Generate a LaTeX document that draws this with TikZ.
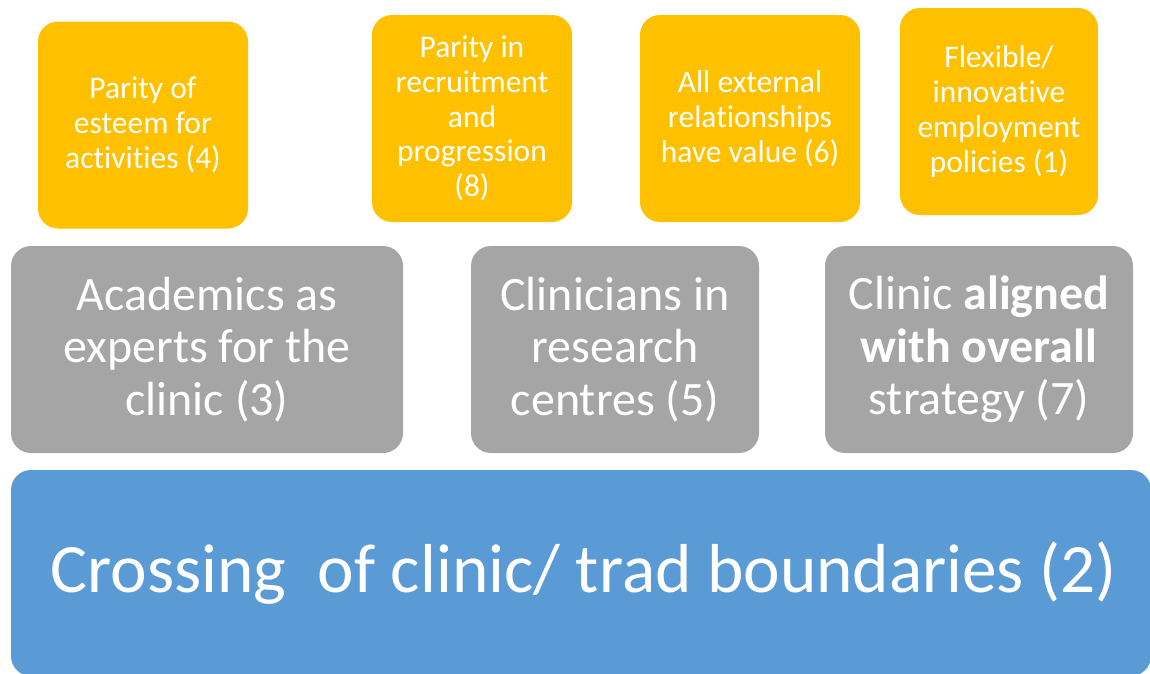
\documentclass[tikz,border=0pt]{standalone}
\usepackage{fontspec}
\setmainfont{Carlito}[Ligatures=NoCommon]
\definecolor{gold}{HTML}{FFC000}
\definecolor{greybox}{HTML}{A5A5A5}
\definecolor{bluebox}{HTML}{5B9BD5}
\begin{document}
\begin{tikzpicture}[x=1pt, y=-1pt, line join=round]
			\tikzset{box/.style={rounded corners=20pt, inner sep=0pt, align=center, text=white},
				small/.style={box, fill=gold, minimum height=207pt, font=\fontsize{31.5}{34.8}\selectfont},
				middle/.style={box, fill=greybox, minimum height=207pt, font=\fontsize{48}{52.5}\selectfont},
				base/.style={box, fill=bluebox, font=\fontsize{69.3}{84}\selectfont}}
			\useasboundingbox (0,0) rectangle (1150,673);
			%Hàng trên
			\node[small, minimum width=210pt] (parity) at (143,125) {Parity of\\esteem for\\activities (4)};
			\node[small, minimum width=200pt] (recruit) at (472,118.5) {Parity in\\recruitment\\and\\progression\\(8)};
			\node[small, minimum width=220pt] (external) at (750,118.5) {All external\\relationships\\have value (6)};
			\node[small, minimum width=198pt] (flexible) at (999,111.5) {Flexible/\\innovative\\employment\\policies (1)};
			%Hàng giữa
			\node[middle, minimum width=392pt] (academics) at (207,349.5) {Academics as\\experts for the\\clinic (3)};
			\node[middle, minimum width=288pt] (clinicians) at (615,349.5) {Clinicians in\\research\\centres (5)};
			\node[middle, minimum width=308pt] (aligned) at (979,349.5) {Clinic \textbf{aligned}\\\textbf{with overall}\\strategy (7)};
			%Hàng dưới
			\node[base, minimum width=1140pt, minimum height=206pt] (crossing) at (581,573) {\hspace*{6pt}Crossing\ \ of clinic/ trad boundaries (2)};
		\end{tikzpicture}
\end{document}
